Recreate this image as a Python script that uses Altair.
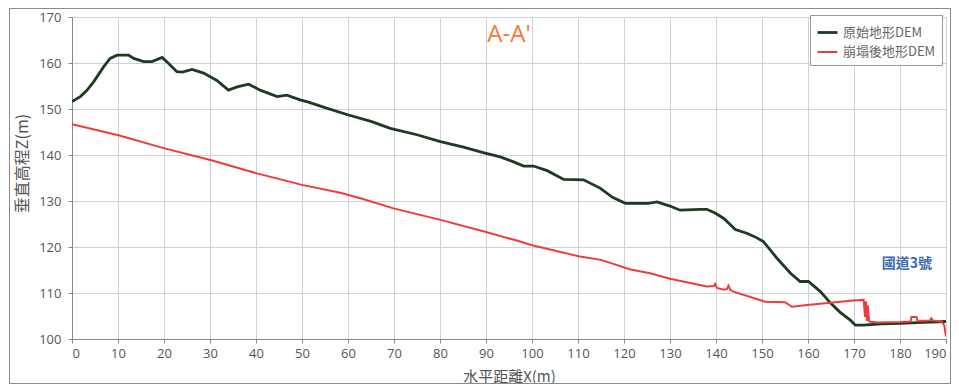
import altair as alt
import pandas as pd

# --- data ---
x_orig = [0, 1.8, 3.2, 4.7, 6.9, 8.3, 9.8, 12.3, 13.4, 15.6, 17.4, 19.6, 21.0, 22.8, 24.0,
          26.1, 28.6, 31.5, 34.0, 35.9, 38.4, 40.9, 44.6, 46.7, 49.6, 51.4, 55, 60.1, 65,
          69.2, 75, 80.1, 85.1, 89.8, 93.1, 96, 98.2, 100.3, 103.3, 106.9, 111.2, 114.8,
          117.5, 120.3, 125.3, 127.2, 130, 132.2, 136.6, 138.0, 139.8, 141.7, 144.2, 146.7,
          148.5, 150.3, 153.3, 156.2, 158.3, 160.1, 162.7, 164.9, 167, 169.2, 170.3, 172.0,
          176, 180, 185, 190]
z_orig = [151.6, 152.7, 154.0, 155.9, 159.2, 161.0, 161.7, 161.7, 161.0, 160.3, 160.3, 161.2,
          159.9, 158.1, 158.0, 158.6, 157.8, 156.2, 154.1, 154.8, 155.4, 154.1, 152.7, 153.0,
          152.0, 151.5, 150.3, 148.7, 147.3, 145.8, 144.4, 142.9, 141.7, 140.4, 139.6, 138.5,
          137.6, 137.6, 136.6, 134.7, 134.6, 132.8, 130.8, 129.5, 129.5, 129.8, 128.9, 128.0,
          128.2, 128.2, 127.4, 126.2, 123.8, 123.0, 122.2, 121.2, 117.5, 114.3, 112.5, 112.5,
          110.3, 107.8, 105.8, 104.1, 103.0, 103.0, 103.3, 103.4, 103.6, 103.8]

x_coll = [0, 10.1, 19.9, 30.1, 40.2, 50.0, 58.3, 62.7, 69.9, 80.1, 89.8, 96.7, 100.0, 110.1,
          115.0, 121.4, 125.7, 130, 138.0, 139.5, 139.8, 140.2, 141.7, 142.4, 142.7, 143.1,
          143.8, 150.7, 155.0, 156.5, 159.8, 164.9, 169.2, 172.1, 172.4, 172.6, 172.8, 173.0,
          173.3, 175, 180, 182.3, 182.5, 183.6, 183.8, 186.5, 186.8, 187.2, 189.0, 189.6, 190.0]
z_coll = [146.7, 144.3, 141.5, 138.9, 136.0, 133.5, 131.8, 130.6, 128.4, 125.9, 123.3, 121.4,
          120.4, 118.0, 117.2, 115.1, 114.3, 113.1, 111.4, 111.5, 112.0, 111.1, 110.7, 110.9,
          111.6, 110.7, 110.3, 108.1, 108.0, 107.0, 107.4, 107.9, 108.3, 108.5, 104.8, 108.2,
          103.9, 107.3, 103.8, 103.6, 103.7, 103.8, 104.8, 104.8, 103.9, 104.0, 104.5, 104.0,
          103.8, 103.0, 100.6]

series_names = ["原始地形DEM", "崩塌後地形DEM"]
series_colors = ["#1E3A22", "#EE3B3B"]

x_ticks = list(range(0, 191, 10))
y_ticks = list(range(100, 171, 10))

annot_text = ["A-A'", "國道3號"]
annot_x = [95.0, 181.5]
annot_y = [166.0, 116.2]

rows = []
for i, (x, z) in enumerate(zip(x_orig, z_orig)):
    rows.append({"x": x, "z": z, "series": series_names[0], "i": i})
for i, (x, z) in enumerate(zip(x_coll, z_coll)):
    rows.append({"x": x, "z": z, "series": series_names[1], "i": i})
df = pd.DataFrame(rows)

FONT = "Open Sans, Noto Sans CJK TC, sans-serif"
CJK = "Noto Sans CJK TC, sans-serif"

xscale = alt.Scale(domain=[0, 190], nice=False, zero=False)
yscale = alt.Scale(domain=[100, 170], nice=False, zero=False)

lines = alt.Chart(df).mark_line(clip=True).encode(
    x=alt.X("x:Q", scale=xscale,
            axis=alt.Axis(values=x_ticks, title="水平距離X(m)", titleY=37,
                          titleBaseline="middle", titleFont=CJK, titleFontSize=15,
                          labelPadding=4)),
    y=alt.Y("z:Q", scale=yscale,
            axis=alt.Axis(values=y_ticks, title="垂直高程Z(m)", titleX=-50, titleY=146,
                          titleBaseline="middle", titleFont=CJK, titleFontSize=16,
                          labelPadding=7)),
    color=alt.Color("series:N",
                    scale=alt.Scale(domain=series_names, range=series_colors),
                    sort=series_names,
                    legend=alt.Legend(title=None, orient="none", legendX=738, legendY=-2,
                                      symbolType="stroke", symbolSize=400,
                                      symbolStrokeWidth=2.5, labelFont=CJK,
                                      labelFontSize=13, labelColor="#666666",
                                      strokeColor="#9a9a9a", fillColor="white",
                                      padding=6, rowPadding=1)),
    strokeWidth=alt.StrokeWidth("series:N",
                                scale=alt.Scale(domain=series_names, range=[2.8, 2.0]),
                                legend=None),
    detail="series:N",
    order="i:Q",
)

adf = pd.DataFrame({"t": annot_text, "x": annot_x, "y": annot_y})
title_txt = alt.Chart(adf[adf.t == annot_text[0]]).mark_text(
    fontSize=24, color="#F07A3A", font="Open Sans, sans-serif", baseline="middle"
).encode(x=alt.X("x:Q", scale=xscale), y=alt.Y("y:Q", scale=yscale), text="t:N")
road_txt = alt.Chart(adf[adf.t == annot_text[1]]).mark_text(
    fontSize=14, color="#3D67B1", font=CJK, fontWeight="bold", baseline="middle"
).encode(x=alt.X("x:Q", scale=xscale), y=alt.Y("y:Q", scale=yscale), text="t:N")

frame = alt.Chart(pd.DataFrame({"a": [0]})).mark_rect(
    filled=False, stroke="#8a8a8a", strokeWidth=1
).encode(x=alt.value(-62.5), x2=alt.value(878.5), y=alt.value(-8.5), y2=alt.value(366.5))

chart = alt.layer(lines, title_txt, road_txt, frame).properties(
    width=874, height=322,
    autosize=alt.AutoSizeParams(type="none"),
    padding={"left": 64, "top": 9, "right": 5, "bottom": 45},
).configure_view(stroke=None).configure_axis(
    gridColor="#CDD2DA", gridWidth=1, domainColor="#888888", tickColor="#888888",
    tickSize=4, labelColor="#555555", titleColor="#555555", labelFont=FONT,
    labelFontSize=13, titleFontWeight="normal"
)

chart.save("out.html", embed_options={"renderer": "svg", "actions": False})
